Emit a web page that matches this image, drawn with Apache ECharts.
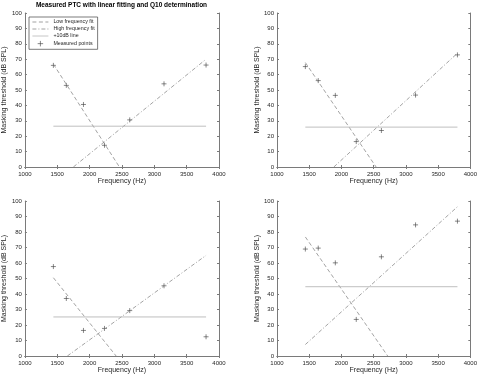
<!DOCTYPE html>
<html>
<head>
<meta charset="utf-8">
<script src="https://cdn.jsdelivr.net/npm/echarts@6/dist/echarts.min.js"></script>
<style>
  html, body { margin: 0; padding: 0; background: #fff; }
  #chart { width: 480px; height: 377px; }
</style>
</head>
<body>
<div id="chart"></div>
<script>
// masker frequencies (Hz), shared by all four panels
const freqs = [1440, 1640, 1905, 2230, 2620, 3150, 3800];

// measured masking thresholds (dB SPL)
const pts1 = [66.0, 53.0, 40.6, 14.1, 30.6, 54.0, 66.2];
const pts2 = [65.2, 56.1, 46.5, 16.5, 23.7, 46.7, 72.8];
const pts3 = [57.7, 37.1, 16.5, 17.8, 29.3, 45.3, 12.4];
const pts4 = [69.0, 69.6, 60.1, 23.6, 64.0, 84.6, 87.0];

// linear fit end points [Hz, dB]
const lowFit1 = [[1440, 66.8], [2461, 0]];
const highFit1 = [[1749, 0], [3800, 70.0]];
const lowFit2 = [[1440, 67.8], [2538, 0]];
const highFit2 = [[1882, 0], [3800, 73.9]];
const lowFit3 = [[1440, 50.5], [2410, 0]];
const highFit3 = [[1656, 0], [3800, 64.9]];
const lowFit4 = [[1440, 76.8], [2718, 0]];
const highFit4 = [[1440, 7.4], [3800, 96.3]];

// +10dB levels
const levels = [26.5, 25.9, 25.2, 44.7];

const xTicks = [1000, 4000, 500];
const yTicks = [0, 100, 10];

const panels = [
  { pts: pts1, low: lowFit1, high: highFit1 },
  { pts: pts2, low: lowFit2, high: highFit2 },
  { pts: pts3, low: lowFit3, high: highFit3 },
  { pts: pts4, low: lowFit4, high: highFit4 }
];

const boxes = [
  { left: 24, top: 13, width: 195, height: 154 },
  { left: 277, top: 13, width: 194, height: 154 },
  { left: 24, top: 201, width: 195, height: 155 },
  { left: 277, top: 201, width: 194, height: 155 }
];

const font = 'Liberation Sans, Arial, sans-serif';
const txt = '#262626';
const boxColor = '#7a7a7a';
const fitColor = '#8c8c8c';
const clear = 'rgba(0,0,0,0)';
const plain = v => String(v);

const grid = [], xAxis = [], yAxis = [], series = [];

panels.forEach((p, i) => {
  grid.push(boxes[i]);
  const lineSt = { show: true, lineStyle: { color: boxColor, width: 1 } };
  const tickSt = { show: true, inside: true, length: 2, lineStyle: { color: boxColor, width: 1 } };
  xAxis.push({
    type: 'value', gridIndex: i, position: 'bottom',
    min: xTicks[0], max: xTicks[1], interval: xTicks[2],
    name: 'Frequency (Hz)', nameLocation: 'middle', nameGap: 11,
    nameTextStyle: { fontFamily: font, fontSize: 7, color: txt },
    axisLine: lineSt, axisTick: tickSt, splitLine: { show: false },
    axisLabel: { fontFamily: font, fontSize: 6, color: txt, margin: 4, formatter: plain }
  });
  xAxis.push({
    type: 'value', gridIndex: i, position: 'top',
    min: xTicks[0], max: xTicks[1], interval: xTicks[2],
    axisLine: lineSt, axisTick: tickSt, splitLine: { show: false },
    axisLabel: { show: false }
  });
  yAxis.push({
    type: 'value', gridIndex: i, position: 'left',
    min: yTicks[0], max: yTicks[1], interval: yTicks[2],
    name: 'Masking threshold (dB SPL)', nameLocation: 'middle', nameGap: 14,
    nameTextStyle: { fontFamily: font, fontSize: 7, color: txt },
    axisLine: lineSt, axisTick: tickSt, splitLine: { show: false },
    axisLabel: { fontFamily: font, fontSize: 6, color: txt, margin: 3, formatter: plain }
  });
  yAxis.push({
    type: 'value', gridIndex: i, position: 'right',
    min: yTicks[0], max: yTicks[1], interval: yTicks[2],
    axisLine: lineSt, axisTick: tickSt, splitLine: { show: false },
    axisLabel: { show: false }
  });

  const sfx = i === 0 ? '' : ' ' + (i + 1);
  const ax = { xAxisIndex: 2 * i, yAxisIndex: 2 * i };
  series.push({
    name: 'Low frequency fit' + sfx, type: 'line', ...ax,
    data: p.low, symbol: 'none', silent: true,
    itemStyle: { color: clear },
    lineStyle: { color: fitColor, width: 0.8, type: [4, 2.5] }
  });
  series.push({
    name: 'High frequency fit' + sfx, type: 'line', ...ax,
    data: p.high, symbol: 'none', silent: true,
    itemStyle: { color: clear },
    lineStyle: { color: fitColor, width: 0.8, type: [4, 2, 1, 2] }
  });
  series.push({
    name: '+10dB line' + sfx, type: 'line', ...ax,
    data: [[freqs[0], levels[i]], [freqs[freqs.length - 1], levels[i]]],
    symbol: 'none', silent: true,
    itemStyle: { color: clear },
    lineStyle: { color: '#b8b8b8', width: 0.9, type: 'solid' }
  });
  series.push({
    name: 'Measured points' + sfx, type: 'scatter', ...ax,
    data: freqs.map((f, k) => [f, p.pts[k]]),
    symbol: 'path://M0,5L10,5M5,0L5,10', symbolSize: 5,
    itemStyle: { color: clear, borderColor: '#444', borderWidth: 0.8 }
  });
});

const chart = echarts.init(document.getElementById('chart'), null, { renderer: 'canvas' });
chart.setOption({
  animation: false,
  backgroundColor: '#fff',
  grid, xAxis, yAxis, series,
  legend: {
    orient: 'vertical', left: 29, top: 17,
    backgroundColor: '#fff', borderColor: '#444', borderWidth: 0.7,
    padding: [2.5, 3, 2.5, 3], itemGap: 2, itemWidth: 16, itemHeight: 5.5,
    textStyle: { fontFamily: font, fontSize: 5.3, color: txt, padding: [0, 0, 0, 0] },
    lineStyle: { width: 0.8 },
    selectedMode: false,
    data: [
      { name: 'Low frequency fit', itemStyle: { color: clear, borderWidth: 0 } },
      { name: 'High frequency fit', itemStyle: { color: clear, borderWidth: 0 } },
      { name: '+10dB line', itemStyle: { color: clear, borderWidth: 0 } },
      { name: 'Measured points', itemStyle: { borderWidth: 0.8, borderColor: '#444', color: clear } }
    ]
  },
  graphic: [{
    type: 'text', x: 121.5, y: 2,
    style: {
      text: 'Measured PTC with linear fitting and Q10 determination',
      font: 'bold 6.5px Liberation Sans, Arial, sans-serif',
      fill: '#000', textAlign: 'center'
    }
  }]
});
</script>
</body>
</html>
